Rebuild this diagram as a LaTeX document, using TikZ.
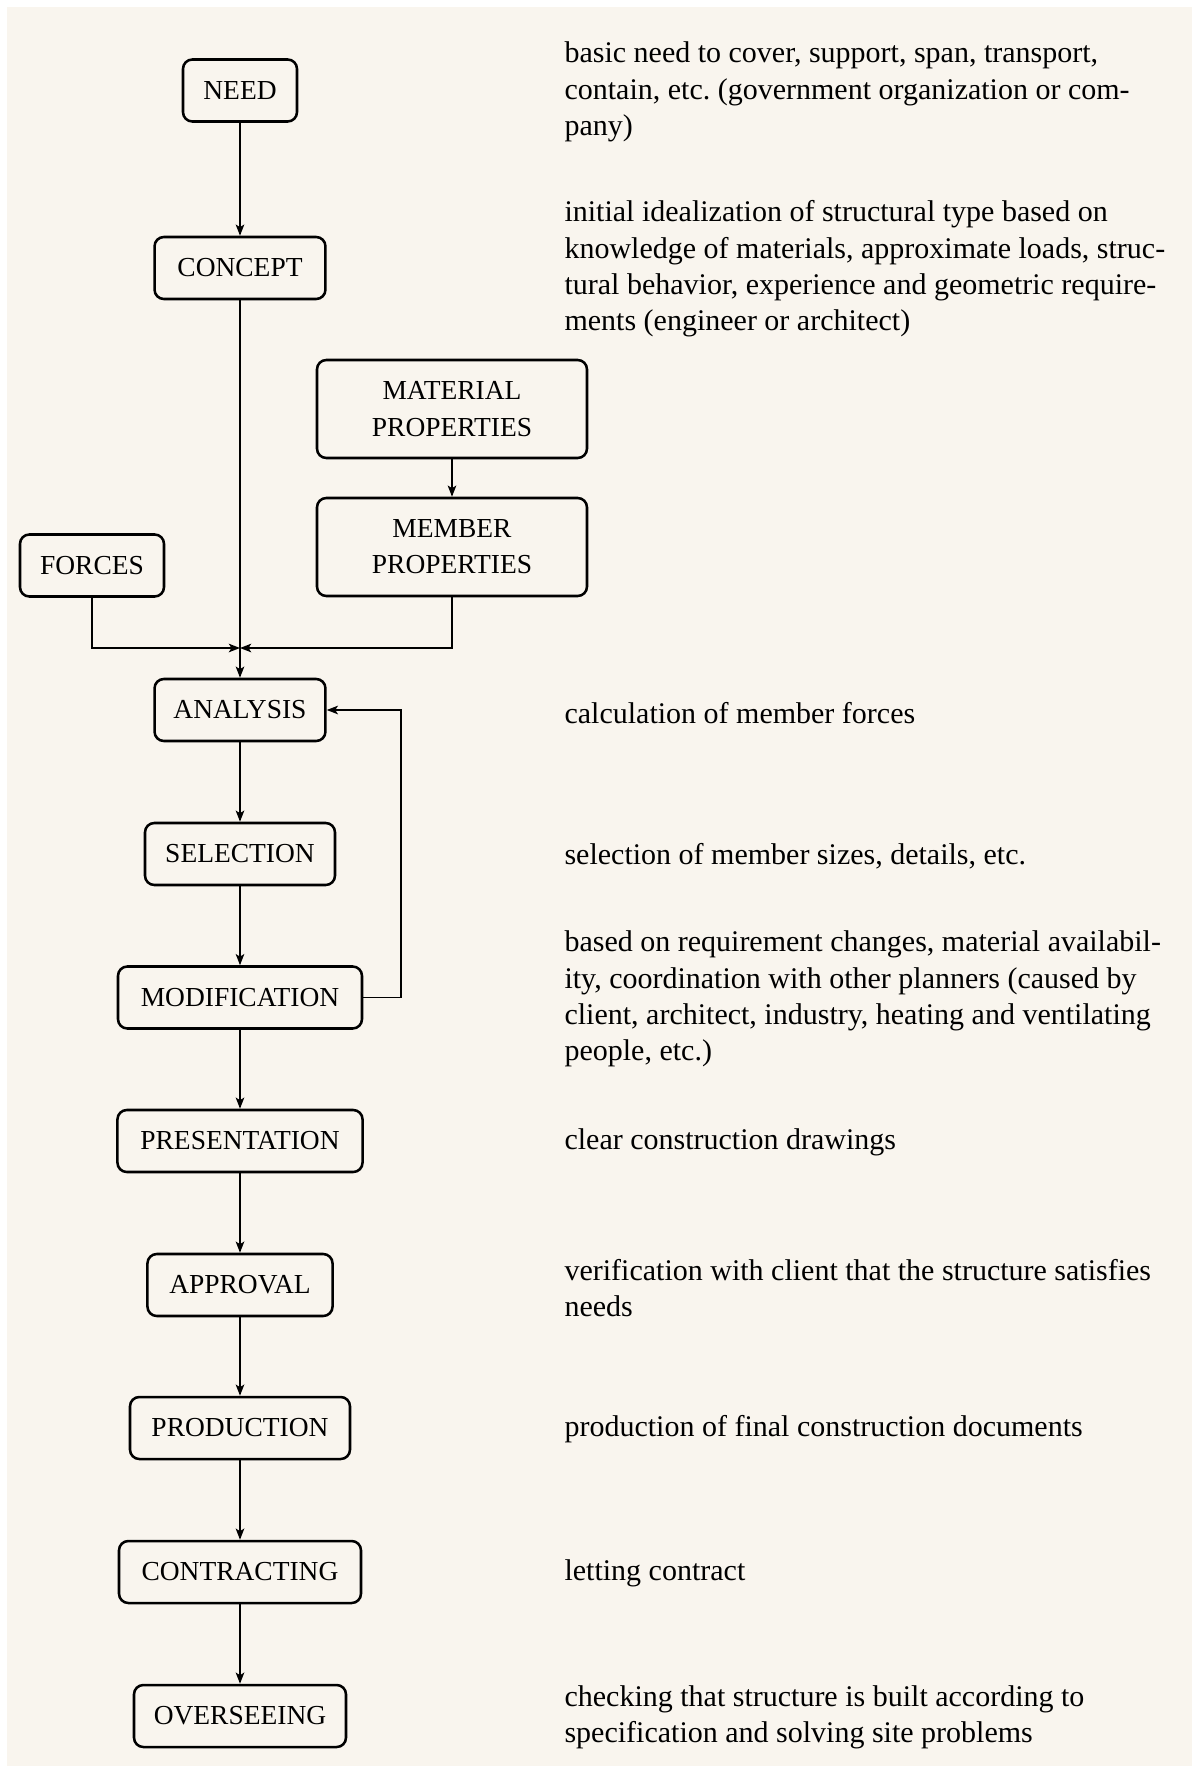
\documentclass[tikz,border=0pt]{standalone}
\usepackage{fontspec}
\setmainfont{Liberation Serif}
\usetikzlibrary{arrows.meta}
\definecolor{bgc}{RGB}{249,245,238}
\tikzset{
  box/.style={draw, line width=0.95pt, rounded corners=3.5pt, inner sep=0pt,
    minimum height=23.25pt, align=center,
    font=\fontsize{10.3}{13.6}\selectfont},
  desc/.style={anchor=west, inner sep=0pt, align=left,
    font=\fontsize{11.25}{13.6}\selectfont},
  arr/.style={line width=0.6pt, -{Stealth[length=4.2pt,width=3.2pt,inset=1pt]}}
}
\begin{document}
\begin{tikzpicture}[x=0.375pt,y=-0.375pt]
\useasboundingbox (0,0) rectangle (1199,1773);
\fill[white] (0,0) rectangle (1199,1773);
\fill[bgc] (7,7) rectangle (1192,1766);

% main column
\node[box, minimum width=42.75pt] (need) at (240,90.5) {NEED};
\node[box, minimum width=64.1pt] (concept) at (240,268) {CONCEPT};
\node[box, minimum width=101.25pt, minimum height=36.75pt] (material) at (452,409) {MATERIAL\\PROPERTIES};
\node[box, minimum width=101.25pt, minimum height=36.75pt] (member) at (452,547) {MEMBER\\PROPERTIES};
\node[box, minimum width=54pt] (forces) at (92,565.5) {FORCES};
\coordinate (j) at (240,648);
\node[box, minimum width=64.1pt] (analysis) at (240,710) {ANALYSIS};
\node[box, minimum width=71.25pt] (selection) at (240,854) {SELECTION};
\node[box, minimum width=91.5pt] (modification) at (240,997.5) {MODIFICATION};
\node[box, minimum width=91.9pt] (presentation) at (240,1141) {PRESENTATION};
\node[box, minimum width=69.4pt] (approval) at (240,1285) {APPROVAL};
\node[box, minimum width=82.5pt] (production) at (240,1428) {PRODUCTION};
\node[box, minimum width=90.75pt] (contracting) at (240,1572) {CONTRACTING};
\node[box, minimum width=79.5pt] (overseeing) at (240,1716) {OVERSEEING};
\coordinate (fb) at (401,710);

% connectors
\draw[arr] (need) -- (concept);
\draw[arr] (concept) -- (analysis);
\draw[arr] (material) -- (member);
\draw[arr] (forces.south) |- (j);
\draw[arr] (member.south) |- (j);
\draw[arr] (analysis) -- (selection);
\draw[arr] (selection) -- (modification);
\draw[arr] (modification) -- (presentation);
\draw[arr] (presentation) -- (approval);
\draw[arr] (approval) -- (production);
\draw[arr] (production) -- (contracting);
\draw[arr] (contracting) -- (overseeing);
\draw[arr] (modification.east) -| (fb) -- (analysis.east);

% descriptions
\node[desc] (d1) at (564,92) {basic need to cover, support, span, transport,\\contain, etc.\ (government organization or com-\\pany)};
\node[desc] (d2) at (564,269) {initial idealization of structural type based on\\knowledge of materials, approximate loads, struc-\\tural behavior, experience and geometric require-\\ments (engineer or architect)};
\node[desc] (d3) at (564,713) {calculation of member forces};
\node[desc] (d4) at (564,856) {selection of member sizes, details, etc.};
\node[desc] (d5) at (564,999) {based on requirement changes, material availabil-\\ity, coordination with other planners (caused by\\client, architect, industry, heating and ventilating\\people, etc.)};
\node[desc] (d6) at (564,1142) {clear construction drawings};
\node[desc] (d7) at (564,1288) {verification with client that the structure satisfies\\needs};
\node[desc] (d8) at (564,1429) {production of final construction documents};
\node[desc] (d9) at (564,1573) {letting contract};
\node[desc] (d10) at (564,1717) {checking that structure is built according to\\specification and solving site problems};
\end{tikzpicture}
\end{document}
